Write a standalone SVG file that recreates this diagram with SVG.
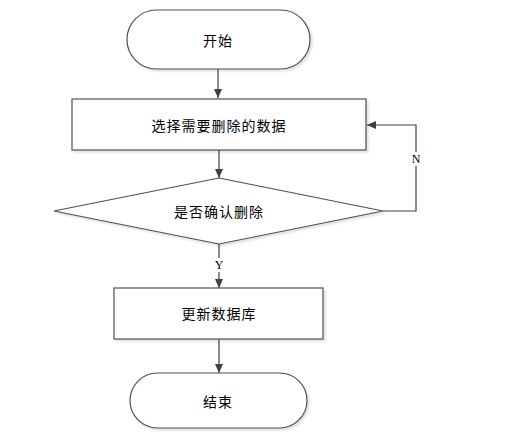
<svg xmlns="http://www.w3.org/2000/svg" width="510" height="440" viewBox="0 0 510 440">
<style>
.s{fill:#fff;stroke:#505050;stroke-width:1.2}
.t{font-family:"Noto Sans CJK SC","Liberation Sans",sans-serif;font-size:14px;fill:#000;text-anchor:middle;dominant-baseline:central;letter-spacing:1px}
.l{font-family:"Liberation Serif",serif;font-size:12px;fill:#000;text-anchor:middle;dominant-baseline:central}
.c{fill:none;stroke:#404040;stroke-width:1.2}
</style>
<defs>
<marker id="a" markerWidth="10" markerHeight="10" refX="9" refY="5" orient="auto" markerUnits="userSpaceOnUse">
<path d="M0,1 L9,5 L0,9 Z" fill="#404040"/>
</marker>
<filter id="sh" x="-10%" y="-10%" width="120%" height="130%"><feDropShadow dx="2" dy="2" stdDeviation="1" flood-color="#000" flood-opacity="0.12"/></filter>
</defs>
<rect width="510" height="440" fill="#fff"/>
<g id="connectors">
<path class="c" d="M218,69 V98" marker-end="url(#a)"/>
<path class="c" d="M219,150 V178" marker-end="url(#a)"/>
<path class="c" d="M219,244 V258 M219,272 V288" marker-end="url(#a)"/>
<path class="c" d="M219,339 V373" marker-end="url(#a)"/>
<path class="c" d="M383,211 H416 V166 M416,152 V125 H367" marker-end="url(#a)"/>
<text class="l" x="219" y="265">Y</text>
<text class="l" x="416" y="159">N</text>
</g>
<g id="start"><rect class="s" filter="url(#sh)" x="127" y="10" width="183" height="59" rx="29.5"/><text class="t" x="218" y="40">开始</text></g>
<g id="select"><rect class="s" filter="url(#sh)" x="72" y="99" width="294" height="51"/><text class="t" x="219" y="125">选择需要删除的数据</text></g>
<g id="confirm"><polygon class="s" filter="url(#sh)" points="219,178 383,211 219,244 54,211"/><text class="t" x="219" y="211">是否确认删除</text></g>
<g id="update"><rect class="s" filter="url(#sh)" x="114" y="288" width="209" height="51"/><text class="t" x="219" y="313">更新数据库</text></g>
<g id="end"><rect class="s" filter="url(#sh)" x="130" y="373" width="177" height="55" rx="27.5"/><text class="t" x="218" y="401">结束</text></g>
</svg>
